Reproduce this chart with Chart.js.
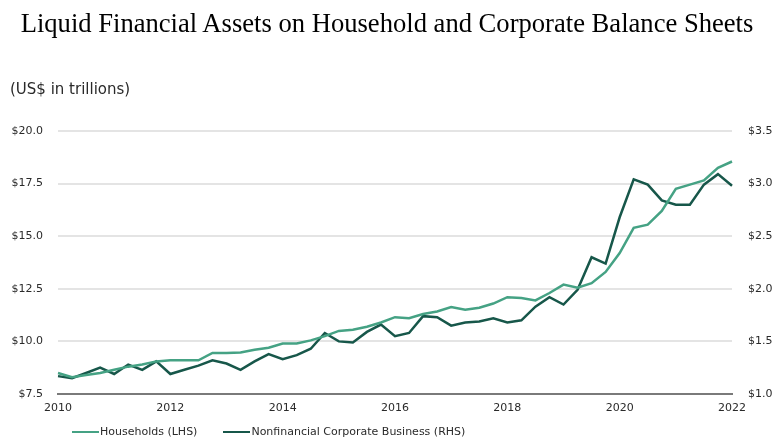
<!DOCTYPE html>
<html lang="en">
<head>
  <meta charset="UTF-8">
  <title>Liquid Financial Assets</title>
  <script src="https://cdn.jsdelivr.net/npm/chart.js"></script>
  <style>
    body { margin: 0; background: #fff; }
    #wrap { position: relative; width: 774px; height: 438px; overflow: hidden; }
    #chart { position: absolute; left: 0; top: 0; }
    h1 {
      position: absolute; left: 0; top: 7px; width: 774px; margin: 0;
      text-align: center; font: normal 26.6px/32px "Liberation Serif", serif; color: #000;
    }
    .sub {
      position: absolute; left: 10px; top: 79px;
      font: 15px/20px "DejaVu Sans", sans-serif; color: #2a2a2a;
    }
    .legend {
      position: absolute; left: 72px; top: 424px;
      font: 11px/16px "DejaVu Sans", sans-serif; color: #2a2a2a; white-space: nowrap;
    }
    .legend span.item { margin-right: 26px; }
    .legend i { display: inline-block; width: 27px; height: 2px; vertical-align: middle; margin-right: 1px; }
  </style>
</head>
<body>
<div id="wrap">
  <canvas id="chart" width="774" height="438"></canvas>
  <h1>Liquid Financial Assets on Household and Corporate Balance Sheets</h1>
  <div class="sub">(US$ in trillions)</div>
  <div class="legend" id="legend"></div>
</div>

<script>
  // quarterly, 2010Q1 .. 2022Q1
  const quarters = [
    '2010Q1','2010Q2','2010Q3','2010Q4','2011Q1','2011Q2','2011Q3','2011Q4',
    '2012Q1','2012Q2','2012Q3','2012Q4','2013Q1','2013Q2','2013Q3','2013Q4',
    '2014Q1','2014Q2','2014Q3','2014Q4','2015Q1','2015Q2','2015Q3','2015Q4',
    '2016Q1','2016Q2','2016Q3','2016Q4','2017Q1','2017Q2','2017Q3','2017Q4',
    '2018Q1','2018Q2','2018Q3','2018Q4','2019Q1','2019Q2','2019Q3','2019Q4',
    '2020Q1','2020Q2','2020Q3','2020Q4','2021Q1','2021Q2','2021Q3','2021Q4',
    '2022Q1'
  ];
  const yearTicks = ['2010', '2012', '2014', '2016', '2018', '2020', '2022'];

  // Households, LHS (US$ trillions)
  const households = [
    8.5, 8.3, 8.4, 8.5, 8.65, 8.8, 8.9, 9.05,
    9.1, 9.1, 9.1, 9.45, 9.45, 9.47, 9.6, 9.7,
    9.9, 9.9, 10.05, 10.25, 10.5, 10.55, 10.7, 10.9,
    11.15, 11.1, 11.3, 11.42, 11.63, 11.5, 11.6, 11.8,
    12.1, 12.06, 11.95, 12.3, 12.7, 12.55, 12.77, 13.3,
    14.2, 15.4, 15.55, 16.2, 17.25, 17.45, 17.65, 18.25,
    18.55
  ];
  // Nonfinancial corporate business, RHS (US$ trillions)
  const corporate = [
    1.17, 1.15, 1.2, 1.25, 1.19, 1.28, 1.23, 1.31,
    1.19, 1.23, 1.27, 1.32, 1.29, 1.23, 1.31, 1.38,
    1.33, 1.37, 1.43, 1.58, 1.50, 1.49, 1.59, 1.66,
    1.55, 1.58, 1.74, 1.73, 1.65, 1.68, 1.69, 1.72,
    1.68, 1.70, 1.83, 1.92, 1.85, 1.99, 2.30, 2.24,
    2.68, 3.04, 2.99, 2.84, 2.80, 2.80, 2.99, 3.09,
    2.98
  ];

  const seriesNames = ['Households (LHS)', 'Nonfinancial Corporate Business (RHS)'];
  const colors = ['#45a284', '#17574a'];
  const tickFont = { family: 'DejaVu Sans', size: 11 };

  new Chart(document.getElementById('chart'), {
    type: 'line',
    data: {
      labels: quarters,
      datasets: [
        { label: seriesNames[0], data: households, yAxisID: 'yL', borderColor: colors[0], borderWidth: 2.5, pointRadius: 0, tension: 0 },
        { label: seriesNames[1], data: corporate, yAxisID: 'yR', borderColor: colors[1], borderWidth: 2.5, pointRadius: 0, tension: 0 }
      ]
    },
    options: {
      responsive: false,
      animation: false,
      devicePixelRatio: 1,
      layout: { padding: { top: 131, left: 0, right: 0, bottom: 0 } },
      plugins: { legend: { display: false }, tooltip: { enabled: false } },
      scales: {
        x: {
          grid: { display: false, drawTicks: false },
          border: { display: true, color: '#7a7a7a', width: 2 },
          ticks: {
            autoSkip: false, maxRotation: 0, padding: 8, color: '#2a2a2a', font: tickFont,
            callback: (v, i) => (i % 8 === 0 ? yearTicks[i / 8] : '')
          },
          afterFit: s => { s.height = 44; }
        },
        yL: {
          position: 'left', min: 7.5, max: 20,
          grid: { color: ctx => (ctx.index === 0 ? 'rgba(0,0,0,0)' : '#e4e4e4'), lineWidth: 2, drawTicks: false },
          border: { display: false },
          ticks: { stepSize: 2.5, padding: 15, color: '#2a2a2a', font: tickFont, callback: v => '$' + v.toFixed(1) },
          afterFit: s => { s.width = 58; }
        },
        yR: {
          position: 'right', min: 1, max: 3.5,
          grid: { drawOnChartArea: false, drawTicks: false },
          border: { display: false },
          ticks: { stepSize: 0.5, padding: 16, color: '#2a2a2a', font: tickFont, callback: v => '$' + v.toFixed(1) },
          afterFit: s => { s.width = 42; }
        }
      }
    }
  });

  // legend below the axis
  document.getElementById('legend').innerHTML = seriesNames.map((n, i) =>
    '<span class="item"><i style="background:' + colors[i] + '"></i>' + n + '</span>').join('');
</script>
</body>
</html>
